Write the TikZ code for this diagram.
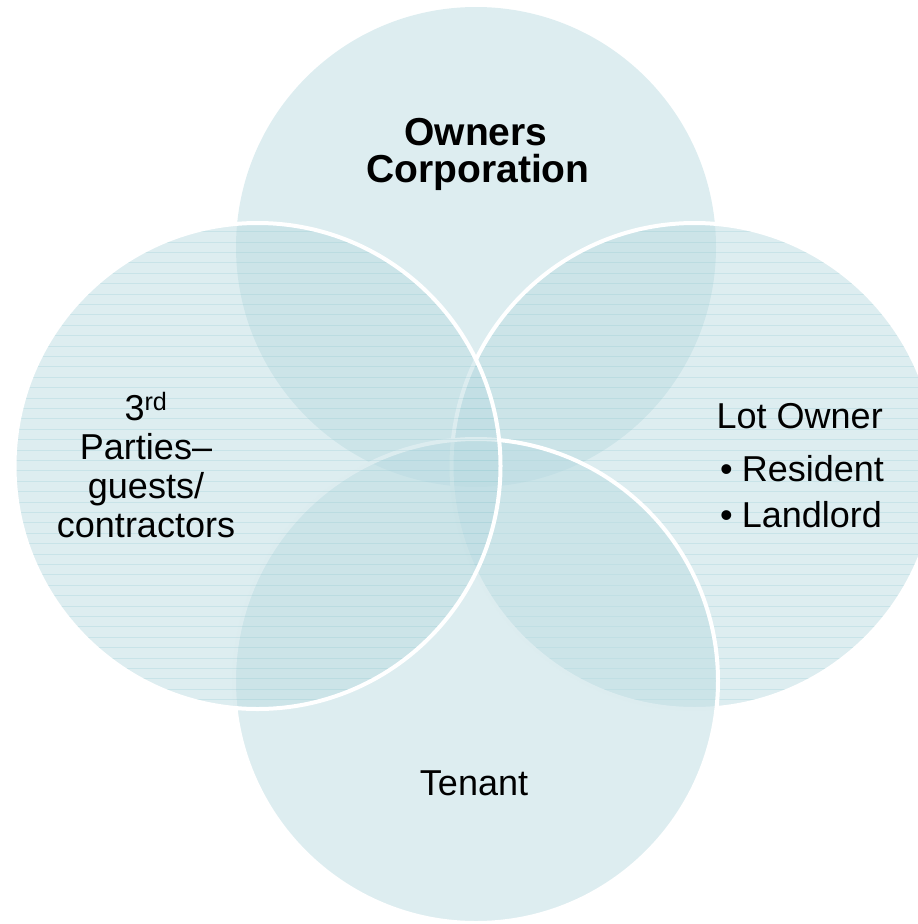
\documentclass[tikz,border=0pt]{standalone}
\usepackage{fontspec}
\setmainfont{Liberation Sans}
\definecolor{vennfill}{RGB}{187,219,225}
\definecolor{stripeline}{RGB}{120,190,200}
\begin{document}
\begin{tikzpicture}[x=1pt,y=-1pt,
  venn/.style={fill=vennfill, fill opacity=0.5},
  rim/.style={draw=white, line width=4pt},
  hatch/.style={draw=stripeline, draw opacity=0.2, line width=1.1pt},
  lbl/.style={font=\fontsize{36}{39}\selectfont, inner sep=0pt, text=black},
  titlelbl/.style={font=\fontsize{39}{36}\selectfont\bfseries, inner sep=0pt, text=black},
]
\useasboundingbox (0,0) rectangle (918,924);
\clip (0,0) rectangle (918,924);

% circle centres
\coordinate (ctop) at (476,247);
\coordinate (cright) at (694.5,466);
\coordinate (cbottom) at (476,681);
\coordinate (cleft) at (257.5,466);

% top circle
\fill[venn] (ctop) circle (240);

% right circle with horizontal hatching
\fill[venn] (cright) circle (243);
\begin{scope}
  \clip (cright) circle (243);
  \foreach \k in {0,...,50}
    \draw[hatch] (440,{221.3+10.4*\k}) -- (940,{221.3+10.4*\k});
\end{scope}
\draw[rim] (cright) circle (243);

% bottom circle
\fill[venn] (cbottom) circle (242);
\draw[rim] (cbottom) circle (242);

% left circle with horizontal hatching
\fill[venn] (cleft) circle (243);
\begin{scope}
  \clip (cleft) circle (243);
  \foreach \k in {0,...,50}
    \draw[hatch] (0,{221.3+10.4*\k}) -- (510,{221.3+10.4*\k});
\end{scope}
\draw[rim] (cleft) circle (243);

% labels
\node[titlelbl, anchor=base] (own1) at (476,145) {Owners};
\node[titlelbl, anchor=base] (own2) at (478,182) {Corporation};

\node[lbl, anchor=base] (thr1) at (146,420) {3\textsuperscript{rd}};
\node[lbl, anchor=base] (thr2) at (146,459) {Parties–};
\node[lbl, anchor=base] (thr3) at (146,498) {guests/};
\node[lbl, anchor=base] (thr4) at (146,537) {contractors};

\node[lbl, anchor=base west] (lot1) at (716.5,428) {Lot Owner};
\node[lbl, anchor=base west] (lot2) at (720,481) {•\hspace{9pt}Resident};
\node[lbl, anchor=base west] (lot3) at (720,527) {•\hspace{9pt}Landlord};

\node[lbl, anchor=base] (ten) at (474,795) {Tenant};
\end{tikzpicture}
\end{document}
